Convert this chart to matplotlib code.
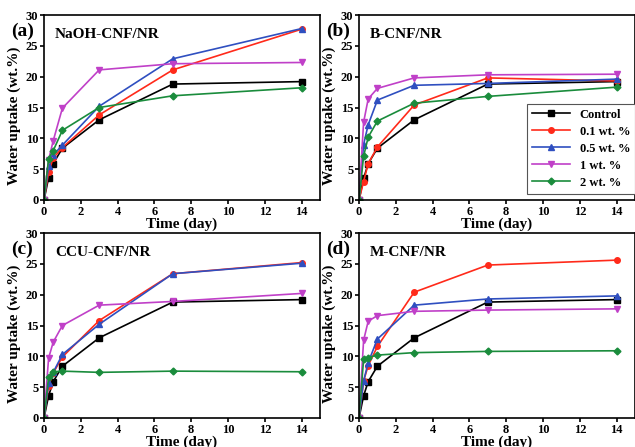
import matplotlib
matplotlib.use("Agg")
import matplotlib.pyplot as plt

plt.rcParams['font.family'] = ['Liberation Serif', 'DejaVu Serif']
plt.rcParams['font.weight'] = 'bold'

# time points (day)
days = [0, 0.25, 0.5, 1, 3, 7, 14]

series_names = ["Control", "0.1 wt. %", "0.5 wt. %", "1 wt. %", "2 wt. %"]
colors = ["#000000", "#ff2a1a", "#2f4fc0", "#c040c8", "#1a8c3c"]
markers = ["s", "o", "^", "v", "D"]

panel_tags = ["(a)", "(b)", "(c)", "(d)"]
panel_titles = ["NaOH-CNF/NR", "B-CNF/NR", "CCU-CNF/NR", "M-CNF/NR"]

control = [0, 3.6, 5.9, 8.4, 13.0, 18.8, 19.2]

naoh = [
    control,
    [0, 4.5, 6.8, 8.5, 13.8, 21.1, 27.7],
    [0, 5.5, 7.3, 8.9, 15.2, 22.9, 27.8],
    [0, 6.5, 9.6, 14.9, 21.1, 22.1, 22.3],
    [0, 6.7, 8.0, 11.3, 15.0, 16.9, 18.2],
]
b_cnf = [
    [0, 3.5, 5.9, 8.4, 13.0, 18.8, 19.2],
    [0, 3.0, 5.9, 8.6, 15.4, 19.8, 19.3],
    [0, 9.0, 12.2, 16.2, 18.6, 18.9, 19.6],
    [0, 12.6, 16.4, 18.1, 19.8, 20.3, 20.4],
    [0, 7.1, 10.2, 12.8, 15.7, 16.8, 18.3],
]
ccu = [
    control,
    [0, 5.2, 7.3, 9.9, 15.8, 23.4, 25.2],
    [0, 5.7, 7.4, 10.3, 15.2, 23.4, 25.1],
    [0, 9.7, 12.3, 15.0, 18.3, 18.9, 20.2],
    [0, 6.6, 7.5, 7.6, 7.4, 7.6, 7.5],
]
m_cnf = [
    control,
    [0, 6.0, 8.5, 11.6, 20.4, 24.8, 25.6],
    [0, 6.0, 9.0, 12.8, 18.3, 19.3, 19.8],
    [0, 12.6, 15.7, 16.6, 17.3, 17.5, 17.7],
    [0, 9.5, 9.8, 10.2, 10.6, 10.8, 10.9],
]
panels = [naoh, b_cnf, ccu, m_cnf]

W, H = 635, 447
fig = plt.figure(figsize=(W / 100, H / 100), dpi=100)

# axes boxes in pixels: left, top, right, bottom
boxes = [(44, 15, 320, 200), (359, 15, 635, 200),
         (44, 233, 320, 418), (359, 233, 635, 418)]

for i, (l, t, r, b) in enumerate(boxes):
    ax = fig.add_axes([l / W, 1 - b / H, (r - l) / W, (b - t) / H])
    for j, ys in enumerate(panels[i]):
        ax.plot(days, ys, color=colors[j], marker=markers[j], ms=4 if markers[j] != "D" else 3.5,
                lw=1.2, label=series_names[j])
    ax.set_xlim(0, 15)
    ax.set_ylim(0, 30)
    ax.set_xticks([0, 2, 4, 6, 8, 10, 12, 14])
    ax.set_yticks([0, 5, 10, 15, 20, 25, 30])
    ax.tick_params(direction='out', length=3, width=1.2, labelsize=9, pad=1)
    for sp in ax.spines.values():
        sp.set_linewidth(1.2)
    ax.set_xlabel("Time (day)", fontsize=11, fontweight='bold', labelpad=0)
    ax.set_ylabel("Water uptake (wt.%)", fontsize=11, fontweight='bold')
    ax.yaxis.set_label_coords(-0.082, 0.455)
    ax.text(-0.118, 0.91, panel_tags[i], transform=ax.transAxes, fontsize=14,
            fontweight='bold', ha='left', va='center')
    ax.text(0.04, 0.895, panel_titles[i], transform=ax.transAxes, fontsize=11,
            fontweight='bold', ha='left', va='center')
    if i == 1:
        leg = ax.legend(loc='lower right', bbox_to_anchor=(1.0, 0.035), borderaxespad=0,
                        fontsize=9, handlelength=3.0, labelspacing=0.4,
                        fancybox=False, edgecolor='#555555', framealpha=1)
        leg.get_frame().set_linewidth(0.8)

fig.savefig("out.png", dpi=100)
